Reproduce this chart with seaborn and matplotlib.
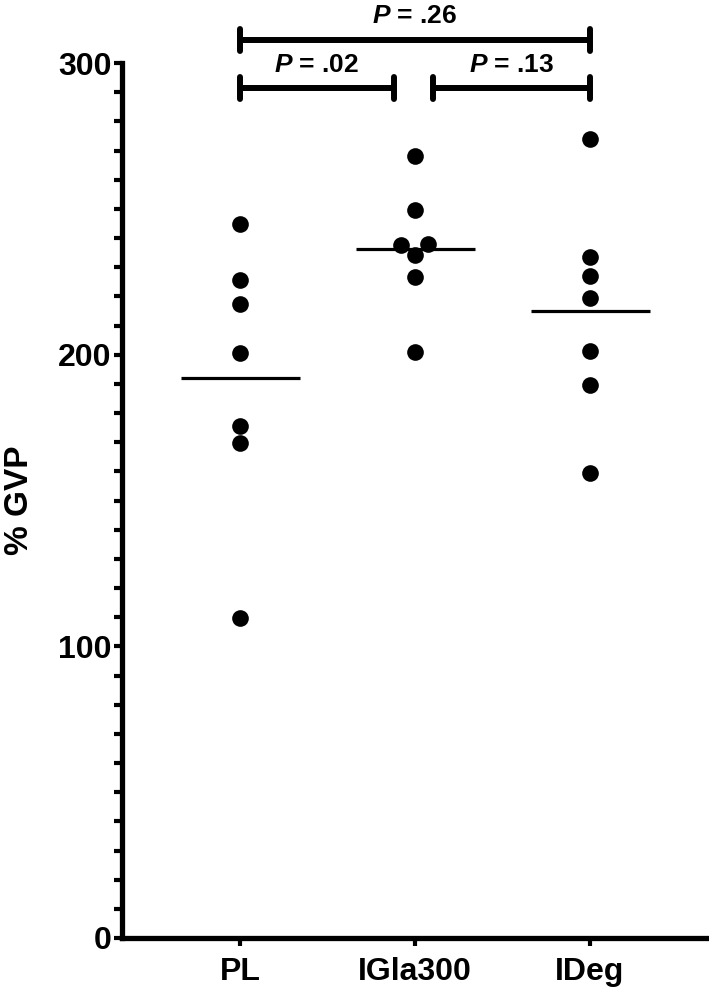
import numpy as np
import pandas as pd
import matplotlib
matplotlib.use('Agg')
import matplotlib.pyplot as plt
import seaborn as sns
from matplotlib.ticker import MultipleLocator

groups = ['PL', 'IGla300', 'IDeg']
pl = [245.0, 225.8, 217.3, 200.5, 175.5, 169.6, 109.6]
igla = [268.1, 249.6, 237.6, 237.9, 234.1, 226.7, 200.8]
ideg = [273.9, 233.6, 227.0, 219.5, 201.3, 189.6, 159.3]

# comparisons: (left group pos, right group pos, label, bracket level)
comparisons = [(0, 2, '.26', 308), (0, 0.88, '.02', 291.5), (1.1, 2, '.13', 291.5)]

df = pd.DataFrame({
    'group': ['PL'] * len(pl) + ['IGla300'] * len(igla) + ['IDeg'] * len(ideg),
    'gvp': pl + igla + ideg,
})

sns.set_style('ticks', {'axes.edgecolor': 'black', 'xtick.color': 'black',
                        'ytick.color': 'black', 'text.color': 'black',
                        'axes.labelcolor': 'black'})
plt.rcParams['font.family'] = ['Liberation Sans', 'DejaVu Sans']
plt.rcParams['font.weight'] = 'bold'
plt.rcParams['mathtext.fontset'] = 'custom'
plt.rcParams['mathtext.bf'] = 'Liberation Sans:italic:bold'

fig = plt.figure(figsize=(7.09, 9.93), dpi=100)
ax = fig.add_axes([0.172, 0.0554, 0.828, 0.881])

sns.swarmplot(data=df, x='group', y='gvp', order=groups, color='black',
              size=12, ax=ax)

# mean lines
means = df.groupby('group')['gvp'].mean().reindex(groups)
for i, m in enumerate(means):
    ax.hlines(m, i - 0.34, i + 0.34, color='black', lw=2.3)

ax.set_xlim(-0.675, 2.68)
ax.set_ylim(0, 300)
ax.yaxis.set_major_locator(MultipleLocator(100))
ax.yaxis.set_minor_locator(MultipleLocator(10))

for s in ['top', 'right']:
    ax.spines[s].set_visible(False)
for s in ['left', 'bottom']:
    ax.spines[s].set_linewidth(3.8)
ax.tick_params(axis='both', which='both', width=3, length=5.5, direction='out')
ax.tick_params(axis='y', labelsize=23, pad=2)
ax.tick_params(axis='x', labelsize=23, pad=8)
for lab in ax.get_xticklabels() + ax.get_yticklabels():
    lab.set_fontweight('bold')

ax.set_xlabel('')
ax.set_ylabel('% GVP', fontsize=24, fontweight='bold')
ax.yaxis.set_label_coords(-0.148, 0.5)

# significance brackets
for x0, x1, p, y in comparisons:
    ax.plot([x0, x1], [y, y], color='black', lw=4.3, clip_on=False,
            solid_capstyle='butt')
    for xx in (x0, x1):
        ax.plot([xx, xx], [y - 3.8, y + 3.8], color='black', lw=4.3,
                clip_on=False, solid_capstyle='round')
    ax.text((x0 + x1) / 2, y + 3.9, r'$\mathbf{P}$ = ' + p, ha='center',
            va='bottom', fontsize=19, fontweight='bold', clip_on=False)

fig.savefig('out.png', dpi=100)
